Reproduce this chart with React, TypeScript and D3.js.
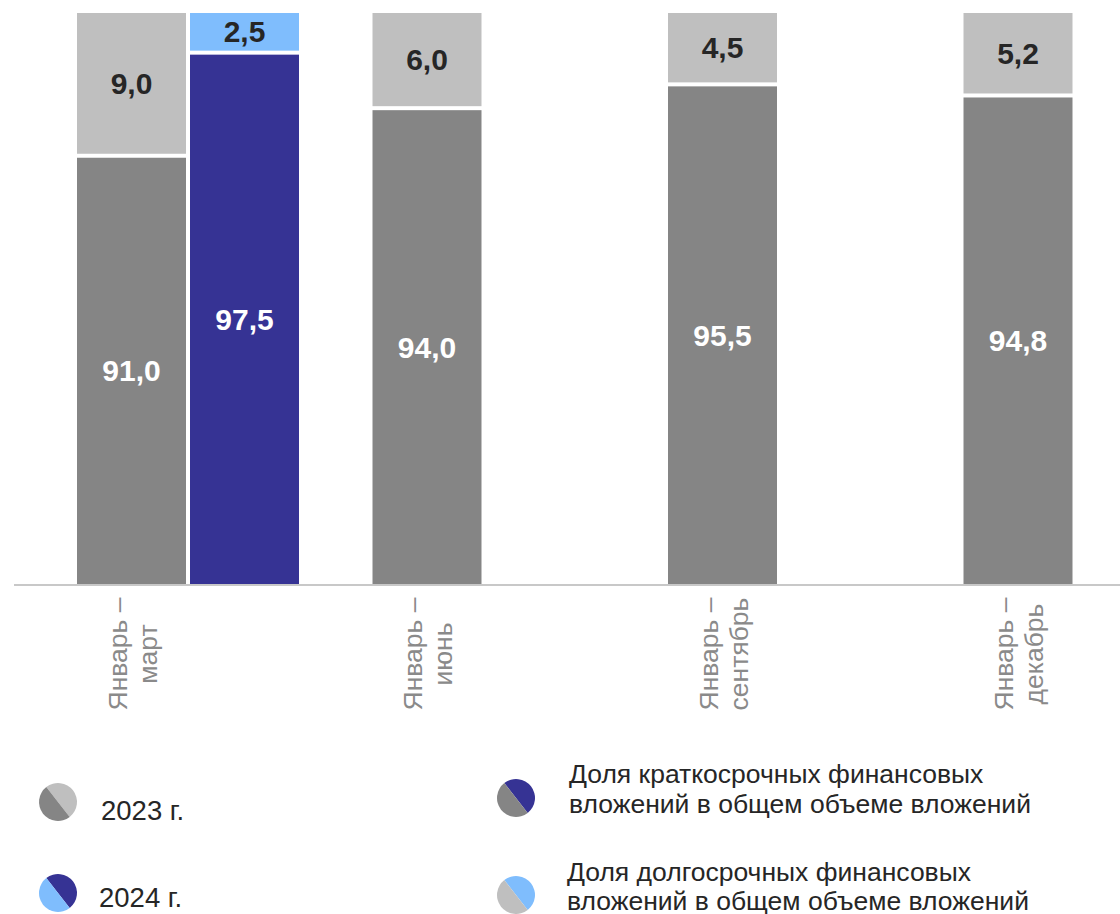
import React from "react";
import * as d3 from "d3";

const periods = ["Январь – март", "Январь – июнь", "Январь – сентябрь", "Январь – декабрь"];
const periodLines = [
  ["Январь –", "март"],
  ["Январь –", "июнь"],
  ["Январь –", "сентябрь"],
  ["Январь –", "декабрь"],
];
const years = ["2023", "2024"];
const shortTerm2023 = [91.0, 94.0, 95.5, 94.8];
const longTerm2023 = [9.0, 6.0, 4.5, 5.2];
const periods2024 = ["Январь – март"];
const shortTerm2024 = [97.5];
const longTerm2024 = [2.5];

const legendYears = ["2023 г.", "2024 г."];
const legendSeries = [
  ["Доля краткосрочных финансовых", "вложений в общем объеме вложений"],
  ["Доля долгосрочных финансовых", "вложений в общем объеме вложений"],
];

const COLORS: Record<string, { short: string; long: string }> = {
  "2023": { short: "#858585", long: "#bfbfbf" },
  "2024": { short: "#363394", long: "#7fbdfd" },
};

const W = 1120;
const H = 914;
const FONT = "'Liberation Sans', Arial, Helvetica, sans-serif";

const fmt = (v: number) => v.toFixed(1).replace(".", ",");

export default function App() {
  const baseline = 584;
  const top = 13;
  const barW = 109;
  const gap = 4;

  const x = d3.scalePoint<string>().domain(periods).range([131.5, 1018]);
  const yearOffset = d3.scaleOrdinal<string, number>().domain(years).range([0, barW + gap]);
  const y = d3.scaleLinear().domain([64, 100]).range([baseline, top]);

  const rows = [
    ...periods.map((p, i) => ({ period: p, year: "2023", short: shortTerm2023[i], long: longTerm2023[i] })),
    ...periods2024.map((p, i) => ({ period: p, year: "2024", short: shortTerm2024[i], long: longTerm2024[i] })),
  ];

  const half = d3.arc<any>();
  const tilt = (-38 * Math.PI) / 180;

  const Pie = ({ cx, cy, r, upper, lower }: { cx: number; cy: number; r: number; upper: string; lower: string }) => (
    <g transform={`translate(${cx},${cy})`}>
      <path
        d={half({ innerRadius: 0, outerRadius: r, startAngle: tilt, endAngle: tilt + Math.PI }) || ""}
        fill={upper}
      />
      <path
        d={half({ innerRadius: 0, outerRadius: r, startAngle: tilt + Math.PI, endAngle: tilt + 2 * Math.PI }) || ""}
        fill={lower}
      />
    </g>
  );

  return (
    <svg
      width={W}
      height={H}
      style={{ position: "absolute", left: 0, top: 0, background: "#fff" }}
      fontFamily={FONT}
    >
      {rows.map((r, i) => {
        const cx = (x(r.period) as number) + yearOffset(r.year);
        const x0 = cx - barW / 2;
        const ySplit = y(r.short);
        const yTop = y(r.short + r.long);
        const c = COLORS[r.year];
        return (
          <g key={i}>
            <rect x={x0} y={yTop} width={barW} height={ySplit - 2 - yTop} fill={c.long} />
            <rect x={x0} y={ySplit + 2} width={barW} height={baseline - ySplit - 2} fill={c.short} />
            <text
              x={cx}
              y={(yTop + ySplit - 2) / 2}
              textAnchor="middle"
              dominantBaseline="central"
              fontSize={30}
              fontWeight="bold"
              fill="#262626"
            >
              {fmt(r.long)}
            </text>
            <text
              x={cx}
              y={(ySplit + 2 + baseline) / 2}
              textAnchor="middle"
              dominantBaseline="central"
              fontSize={30}
              fontWeight="bold"
              fill="#ffffff"
            >
              {fmt(r.short)}
            </text>
          </g>
        );
      })}

      <line x1={14} x2={W} y1={baseline + 1} y2={baseline + 1} stroke="#c8c8c8" strokeWidth={2} />

      {periods.map((p, i) => (
        <text
          key={p}
          transform={`translate(${x(p)},654) rotate(-90)`}
          textAnchor="middle"
          fontSize={26.5}
          fill="#8a8a8a"
        >
          <tspan x={0} y={-5}>{periodLines[i][0]}</tspan>
          <tspan x={0} y={25}>{periodLines[i][1]}</tspan>
        </text>
      ))}

      <Pie cx={58} cy={802} r={19} upper={COLORS["2023"].long} lower={COLORS["2023"].short} />
      <text x={101} y={820} fontSize={27.5} fill="#262626">{legendYears[0]}</text>
      <Pie cx={58} cy={893} r={19} upper={COLORS["2024"].short} lower={COLORS["2024"].long} />
      <text x={99} y={907} fontSize={27.5} fill="#262626">{legendYears[1]}</text>

      <Pie cx={516} cy={798} r={19} upper={COLORS["2024"].short} lower={COLORS["2023"].short} />
      <text x={569} fontSize={26.5} fill="#262626">
        <tspan x={569} y={783}>{legendSeries[0][0]}</tspan>
        <tspan x={569} y={813}>{legendSeries[0][1]}</tspan>
      </text>
      <Pie cx={516} cy={895} r={19} upper={COLORS["2024"].long} lower={COLORS["2023"].long} />
      <text x={567} fontSize={26.5} fill="#262626">
        <tspan x={567} y={881}>{legendSeries[1][0]}</tspan>
        <tspan x={567} y={910}>{legendSeries[1][1]}</tspan>
      </text>
    </svg>
  );
}
